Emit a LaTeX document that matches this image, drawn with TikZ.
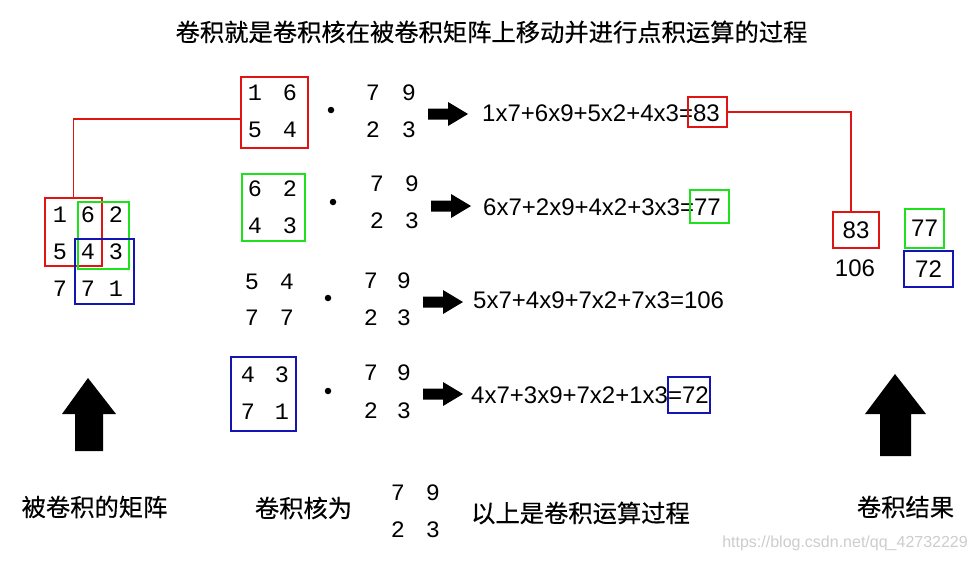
\documentclass[tikz,border=0pt]{standalone}
\usepackage{fontspec}
\setmainfont{Liberation Sans}
\newfontfamily\cjk{Noto Sans CJK SC}[FakeBold=0.4]
\newfontfamily\monod{Liberation Mono}
\definecolor{boxred}{RGB}{225,20,20}
\definecolor{boxgreen}{RGB}{30,225,30}
\definecolor{boxblue}{RGB}{20,20,180}
\definecolor{wmgray}{RGB}{205,205,205}
\tikzset{
  dig/.style={font=\monod\fontsize{23.5}{24}\selectfont, inner sep=0pt},
  eq/.style={font=\fontsize{24}{24}\selectfont, inner sep=0pt, anchor=west},
  res/.style={font=\fontsize{24}{24}\selectfont, inner sep=0pt},
  zh/.style={font=\cjk\fontsize{24.3}{25}\selectfont, inner sep=0pt},
  frame/.style={draw=#1, line width=1.3pt, inner sep=0pt},
  dotm/.style={circle, fill=black, minimum size=6.5pt, inner sep=0pt},
  link/.style={draw=boxred, line width=1.3pt},
  fatR/.pic={\fill (0,-5.5) -- (20,-5.5) -- (20,-12) -- (40,0) -- (20,12) -- (20,5.5) -- (0,5.5) -- cycle;}
}
\begin{document}
\begin{tikzpicture}[x=1pt,y=-1pt]
\useasboundingbox (0,0) rectangle (970,562);
\fill[white] (0,0) rectangle (970,562);

% title
\node[zh] (title) at (491.5,32) {卷积就是卷积核在被卷积矩阵上移动并进行点积运算的过程};

% left 3x3 matrix
\node[dig] (a11) at (60,215) {1};
\node[dig] (a12) at (88,215) {6};
\node[dig] (a13) at (116,215) {2};
\node[dig] (a21) at (60,252) {5};
\node[dig] (a22) at (88,252) {4};
\node[dig] (a23) at (116,252) {3};
\node[dig] (a31) at (60,289) {7};
\node[dig] (a32) at (88,289) {7};
\node[dig] (a33) at (116,289) {1};
\node[frame=boxred, minimum width=57, minimum height=68] (lr) at (73.5,232) {};
\node[frame=boxgreen, minimum width=51, minimum height=67] (lg) at (103.5,235.5) {};
\node[frame=boxblue, minimum width=59, minimum height=65] (lb) at (104.5,271.5) {};

% sub-matrices
\node[dig] (m1a) at (255,93) {1};
\node[dig] (m1b) at (290,93) {6};
\node[dig] (m1c) at (255,130) {5};
\node[dig] (m1d) at (290,130) {4};
\node[frame=boxred, minimum width=67, minimum height=71] (m1) at (274.5,112.5) {};

\node[dig] (m2a) at (255,189) {6};
\node[dig] (m2b) at (290,189) {2};
\node[dig] (m2c) at (255,226) {4};
\node[dig] (m2d) at (290,226) {3};
\node[frame=boxgreen, minimum width=63, minimum height=67] (m2) at (273.5,207.5) {};

\node[dig] (m3a) at (252,282) {5};
\node[dig] (m3b) at (287,282) {4};
\node[dig] (m3c) at (252,318) {7};
\node[dig] (m3d) at (287,318) {7};

\node[dig] (m4a) at (248,375) {4};
\node[dig] (m4b) at (282,375) {3};
\node[dig] (m4c) at (248,412) {7};
\node[dig] (m4d) at (282,412) {1};
\node[frame=boxblue, minimum width=65, minimum height=74] (m4) at (263.5,394) {};

% dots
\node[dotm] (d1) at (331,110) {};
\node[dotm] (d2) at (333,202) {};
\node[dotm] (d3) at (328,298) {};
\node[dotm] (d4) at (328,391) {};

% kernels
\node[dig] (k1a) at (373,93) {7};
\node[dig] (k1b) at (409,93) {9};
\node[dig] (k1c) at (373,130) {2};
\node[dig] (k1d) at (409,130) {3};
\node[dig] (k2a) at (377,184) {7};
\node[dig] (k2b) at (412,184) {9};
\node[dig] (k2c) at (377,221) {2};
\node[dig] (k2d) at (412,221) {3};
\node[dig] (k3a) at (371,281) {7};
\node[dig] (k3b) at (404,281) {9};
\node[dig] (k3c) at (371,318) {2};
\node[dig] (k3d) at (404,318) {3};
\node[dig] (k4a) at (371,373) {7};
\node[dig] (k4b) at (404,373) {9};
\node[dig] (k4c) at (371,411) {2};
\node[dig] (k4d) at (404,411) {3};

% fat arrows
\pic at (428,114) {fatR};
\pic at (431,206) {fatR};
\pic at (423,302) {fatR};
\pic at (423,394) {fatR};

% equations
\node[eq] (e1) at (482,113) {1x7+6x9+5x2+4x3=83};
\node[eq] (e2) at (483,207) {6x7+2x9+4x2+3x3=77};
\node[eq] (e3) at (473,300) {5x7+4x9+7x2+7x3=106};
\node[eq] (e4) at (471,395) {4x7+3x9+7x2+1x3=72};
\node[frame=boxred, minimum width=39, minimum height=30] (b1) at (707.5,112) {};
\node[frame=boxgreen, minimum width=39, minimum height=33] (b2) at (709.5,206.5) {};
\node[frame=boxblue, minimum width=42, minimum height=36] (b4) at (689,395) {};

% results
\node[res, frame=boxred, minimum width=46, minimum height=36] (r83) at (856,230) {83};
\node[res, frame=boxgreen, minimum width=39, minimum height=39] (r77) at (924.5,228.5) {77};
\node[res] (r106) at (855,268) {106};
\node[res, frame=boxblue, minimum width=49, minimum height=36] (r72) at (928.5,269) {72};

% connectors
\draw[link] (lr.north) |- ([yshift=-6.5pt]m1.west);
\draw[link] (b1.east) -| ([xshift=-5pt]r83.north);

% up arrows
\fill (88,378) -- (116,414) -- (103,414) -- (103,451) -- (75,451) -- (75,414) -- (62,414) -- cycle;
\fill (895,374) -- (926,414) -- (911,414) -- (911,456) -- (880,456) -- (880,414) -- (865,414) -- cycle;

% bottom captions
\node[zh] (c1) at (94.5,507) {被卷积的矩阵};
\node[zh] (c2) at (303.5,508) {卷积核为};
\node[dig] (bk1) at (398,493) {7};
\node[dig] (bk2) at (433,493) {9};
\node[dig] (bk3) at (398,530) {2};
\node[dig] (bk4) at (433,530) {3};
\node[zh] (c3) at (580.5,513) {以上是卷积运算过程};
\node[zh] (c4) at (905.5,507) {卷积结果};
\node[font=\fontsize{16}{16}\selectfont, text=wmgray, inner sep=0pt, anchor=east] (wm) at (968,543) {https://blog.csdn.net/qq\_42732229};
\end{tikzpicture}
\end{document}
